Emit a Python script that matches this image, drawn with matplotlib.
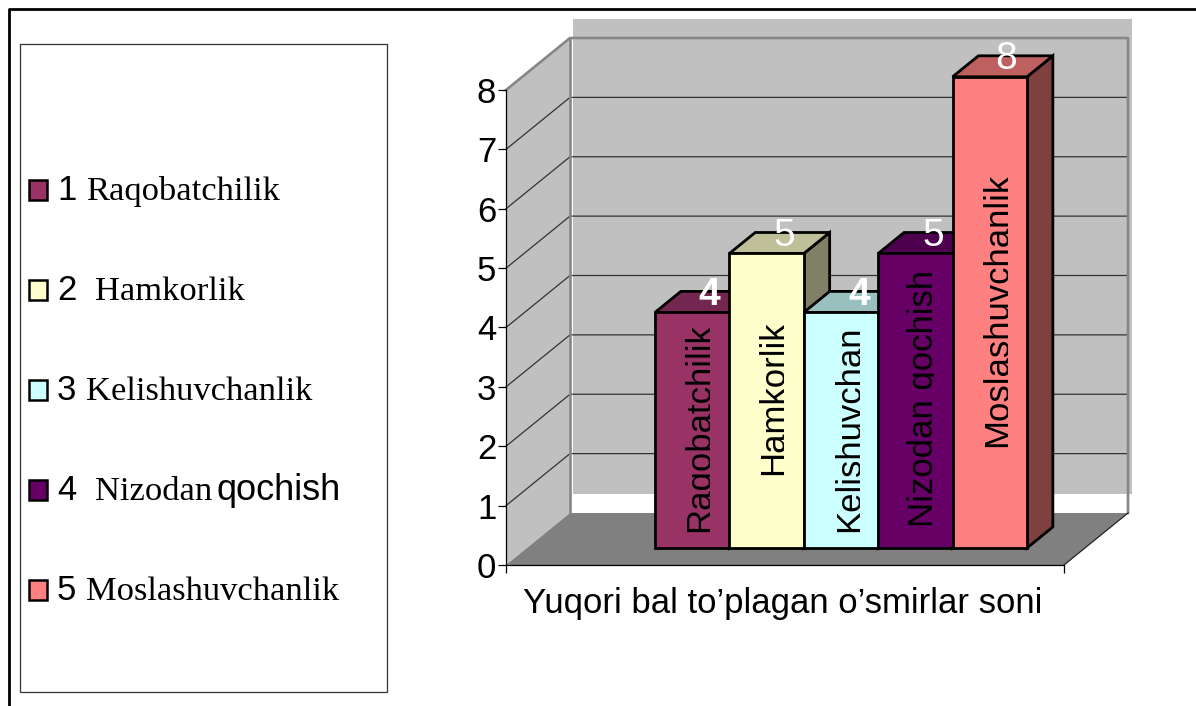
import matplotlib
matplotlib.use("Agg")
import matplotlib.pyplot as plt
from matplotlib.patches import Polygon, Rectangle
from matplotlib.transforms import Affine2D, Bbox

W, H = 1196, 706

categories = ["Raqobatchilik", "Hamkorlik", "Kelishuvchan", "Nizodan qochish", "Moslashuvchanlik"]
values = [4, 5, 4, 5, 8]
colors = ["#993366", "#FFFFCC", "#CCFFFF", "#660066", "#FF8080"]
top_colors = ["#732650", "#BFBF99", "#99BFBF", "#4D004D", "#BF6060"]
side_colors = ["#4D1A33", "#808066", "#668080", "#330033", "#804040"]
yticks = [0, 1, 2, 3, 4, 5, 6, 7, 8]
xlabel = "Yuqori bal to\u2019plagan o\u2019smirlar soni"

legend_nums = ["1", "2", "3", "4", "5"]
legend_names = ["Raqobatchilik", "Hamkorlik", "Kelishuvchanlik", "Nizodan", "Moslashuvchanlik"]
legend_name_x = [86, 95, 86, 95, 86]

plt.rcParams["font.family"] = ["Liberation Sans", "DejaVu Sans"]

fig = plt.figure(figsize=(W / 100, H / 100), dpi=100)
# pixel coords with origin top left, for frame + legend + text
px = Affine2D().scale(1, -1).translate(0, H)

# front plane of the 3d box: x 506..1064, value 0..8 at y 565..90
ax = fig.add_axes([506 / W, 1 - 565 / H, 558 / W, 475 / H])
ax.patch.set_alpha(0)
UX = 75.0
UY = 475 / 8
xmax = 558 / UX
ax.set_xlim(0, xmax)
ax.set_ylim(0, 8)
DX = 64 / UX   # full depth of box in data units
DY = 52 / UY


def proj(x, y, z):
    return (x + z * DX, y + z * DY)


def poly(pts, fc, ec="none", lw=0, z=1):
    ax.add_patch(Polygon(pts, closed=True, fc=fc, ec=ec, lw=lw, zorder=z,
                         clip_on=False, joinstyle="miter"))


# back wall, shifted a bit from its frame like in the original
wall_x0, wall_x1 = DX + 3 / UX, xmax + DX + 4 / UX
wall_y0 = DY + 19 / UY
poly([(wall_x0, wall_y0), (wall_x1, wall_y0), (wall_x1, wall_y0 + 8), (wall_x0, wall_y0 + 8)],
     "#C0C0C0", z=1)
poly([proj(0, 0, 0), proj(0, 8, 0), proj(0, 8, 1), proj(0, 0, 1)], "#C0C0C0", z=1.1)
poly([proj(0, 0, 0), proj(xmax, 0, 0), proj(xmax, 0, 1), proj(0, 0, 1)], "#808080", z=1.2)

# grid
for v in yticks[1:-1]:
    xs, ys = zip(proj(0, v, 0), proj(0, v, 1), proj(xmax, v, 1))
    ax.plot(xs, ys, color="#333333", lw=0.9, zorder=1.3, clip_on=False)

# back frame in grey
xs, ys = zip(proj(0, 8, 0), proj(0, 8, 1), proj(xmax, 8, 1), proj(xmax, 0, 1))
ax.plot(xs, ys, color="#868686", lw=1.9, zorder=1.4, clip_on=False)
xs, ys = zip(proj(0, 8, 1), proj(0, 0, 1))
ax.plot(xs, ys, color="#868686", lw=1.9, zorder=1.4, clip_on=False)
xs, ys = zip(proj(xmax, 0, 0), proj(xmax, 0, 1))
ax.plot(xs, ys, color="#222222", lw=0.9, zorder=1.4, clip_on=False)

# bars
BAR0 = (655 - 506) / UX - 0.327 * DX
BAR_W = 74.4 / UX
Z0, Z1 = 0.327, 0.327 + 21 / 52
SCALE = 58.9 / UY
for i, v in enumerate(values):
    x0 = BAR0 + i * BAR_W
    x1 = x0 + BAR_W
    h = v * SCALE
    zb = 2 + i * 0.1
    poly([proj(x1, 0, Z0), proj(x1, h, Z0), proj(x1, h, Z1), proj(x1, 0, Z1)],
         side_colors[i], "black", 2, zb)
    poly([proj(x0, h, Z0), proj(x1, h, Z0), proj(x1, h, Z1), proj(x0, h, Z1)],
         top_colors[i], "black", 2, zb)
    poly([proj(x0, 0, Z0), proj(x1, 0, Z0), proj(x1, h, Z0), proj(x0, h, Z0)],
         colors[i], "black", 2, zb + 0.01)

# value labels and names on bars
val_pos = [(709, 295), (784, 236), (859, 295), (933, 236), (1006, 59)]
val_bold = [True, False, True, False, False]
for v, (x, y), b in zip(values, val_pos, val_bold):
    fig.text(x, y, str(v), transform=px, color="white", ha="center", va="center",
             fontsize=28, fontweight="bold" if b else "normal", zorder=10)

name_x = [709, 783, 859, 933, 1007]
name_bottom = [532, 475, 532, 527, 447]
for name, x, y in zip(categories, name_x, name_bottom):
    t = fig.text(x, y, name, transform=px, rotation=90, ha="left", va="baseline",
                 rotation_mode="anchor", fontsize=25, color="black", zorder=10)
    # the original cuts the descenders off at the baseline
    t.set_clip_box(Bbox([[0, 0], [x + 0.5, H]]))
    t.set_clip_on(True)

# axes
for s in ["top", "right"]:
    ax.spines[s].set_visible(False)
ax.spines["left"].set_linewidth(0.9)
ax.spines["bottom"].set_linewidth(0.9)
ax.spines["left"].set_zorder(5)
ax.spines["bottom"].set_zorder(5)
ax.set_yticks(yticks)
ax.set_yticklabels([str(t) for t in yticks], fontsize=25, va="center_baseline")
ax.set_xticks([0, xmax])
ax.set_xticklabels(["", ""])
ax.tick_params(axis="both", length=5.5, width=0.9, pad=1.5)

fig.text(783, 604, xlabel, transform=px, ha="center", va="center", fontsize=25, color="black")

# legend box, swatches, text
fig.add_artist(Rectangle((20, 43.5), 367, 648.5, transform=px, fc="white", ec="#333333", lw=0.9))
row_y = [190, 290, 390, 490, 590]
for i, y in enumerate(row_y):
    fig.add_artist(Rectangle((29, y - 10), 18, 19.5, transform=px, fc=colors[i], ec="black", lw=1.8))
    fig.text(57, y + 10, legend_nums[i], transform=px, va="baseline", fontsize=25, color="black")
    fig.text(legend_name_x[i], y + 10, legend_names[i], transform=px, va="baseline",
             fontsize=24.8, family=["Liberation Serif"], color="black")
fig.text(217, 500, "qochish", transform=px, va="baseline", fontsize=26, color="black")

# outer page frame
fig.add_artist(plt.Line2D([8.5, 8.5, W], [H, 9, 9], transform=px, color="black", lw=2.0))

fig.savefig("out.png", dpi=100)
